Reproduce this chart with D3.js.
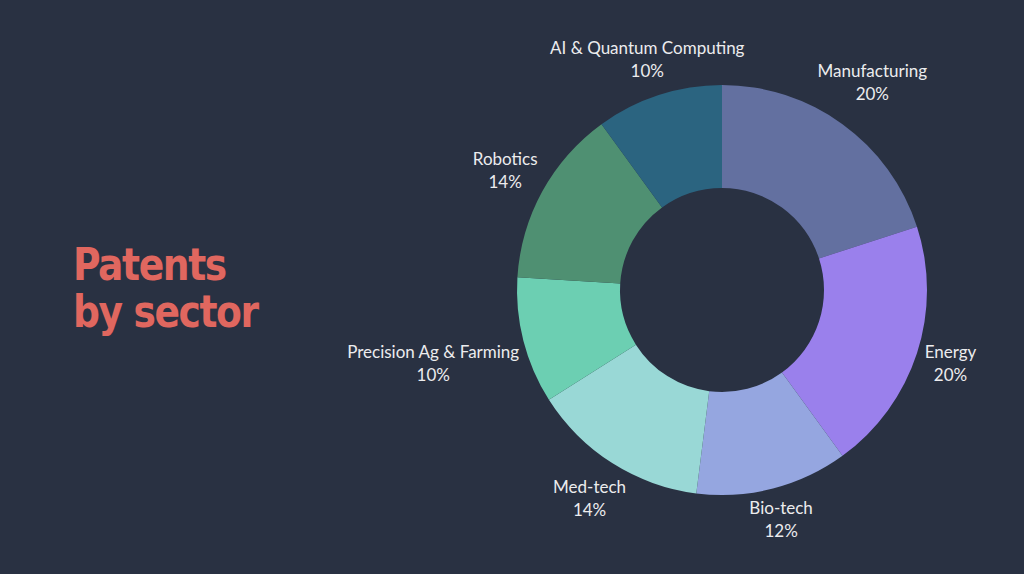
<!DOCTYPE html>
<html>
<head>
<meta charset="utf-8">
<script src="https://cdn.jsdelivr.net/npm/d3@7"></script>
<style>
  html, body { margin: 0; padding: 0; background: #293142; }
  svg { display: block; }
</style>
</head>
<body>
<div id="chart"></div>
<script>
// sectors, clockwise from 12 o'clock
var categories = ['Manufacturing', 'Energy', 'Bio-tech', 'Med-tech', 'Precision Ag & Farming', 'Robotics', 'AI & Quantum Computing'];
var shares = [20, 20, 12, 14, 10, 14, 10];
var colors = ['#6370a0', '#9a80ec', '#95a6e0', '#99d8d6', '#6ccfb2', '#4f9072', '#2b6480'];
var titleLines = ['Patents', 'by sector'];

const WIDTH = 1024;
const HEIGHT = 574;
const CENTER = { X: 722, Y: 290 };
const OUTER = 205;
const INNER = 102;
const LABEL_GAP = 4;

var svg = d3.select('#chart').append('svg')
	.attr('width', WIDTH)
	.attr('height', HEIGHT);

svg.append('rect')
	.attr('width', WIDTH)
	.attr('height', HEIGHT)
	.attr('fill', '#293142');

// title, squeezed a bit to look like the condensed face
var title = svg.append('text')
	.attr('transform', 'translate(73,280) scale(0.93,1)')
	.attr('fill', '#e0675f')
	.style('font-family', '"DejaVu Sans Condensed", "Liberation Sans Narrow", sans-serif')
	.style('font-weight', 'bold')
	.style('font-size', '45px')
	.style('letter-spacing', '-1.5px');
title.selectAll('tspan').data(titleLines).enter()
	.append('tspan')
	.attr('x', 0)
	.attr('dy', function (d, i) { return i === 0 ? 0 : 47; })
	.text(function (d) { return d; });

var data = categories.map(function (c, i) {
	return { name: c, value: shares[i], color: colors[i] };
});

var pie = d3.pie().sort(null).value(function (d) { return d.value; });
var arc = d3.arc().innerRadius(INNER).outerRadius(OUTER);
var arcs = pie(data);

var g = svg.append('g')
	.attr('transform', 'translate(' + CENTER.X + ',' + CENTER.Y + ')');

g.selectAll('path').data(arcs).enter()
	.append('path')
	.attr('d', arc)
	.attr('fill', function (d) { return d.data.color; });

var total = d3.sum(shares);
var labels = g.selectAll('.label').data(arcs).enter()
	.append('text')
	.attr('class', 'label')
	.attr('text-anchor', 'middle')
	.attr('fill', '#ececee')
	.style('font-family', 'Lato, "Noto Sans", sans-serif')
	.style('font-size', '17px');

labels.append('tspan')
	.attr('x', 0)
	.attr('y', -6)
	.text(function (d) { return d.data.name; });
labels.append('tspan')
	.attr('x', 0)
	.attr('y', 17)
	.text(function (d) { return Math.round(d.data.value / total * 100) + '%'; });

// push each label out along its mid angle until its box clears the ring
labels.each(function (d) {
	var box = this.getBBox();
	var mid = (d.startAngle + d.endAngle) / 2;
	var sx = Math.sin(mid), sy = -Math.cos(mid);
	function clearance (r) {
		var x0 = r * sx + box.x, x1 = x0 + box.width;
		var y0 = r * sy + box.y, y1 = y0 + box.height;
		var nx = Math.max(x0, Math.min(0, x1));
		var ny = Math.max(y0, Math.min(0, y1));
		return Math.sqrt(nx * nx + ny * ny);
	}
	var lo = 0, hi = 600;
	for (var k = 0; k < 40; k++) {
		var m = (lo + hi) / 2;
		if (clearance(m) < OUTER + LABEL_GAP) lo = m; else hi = m;
	}
	d3.select(this).attr('transform', 'translate(' + (hi * sx) + ',' + (hi * sy) + ')');
});
</script>
</body>
</html>
